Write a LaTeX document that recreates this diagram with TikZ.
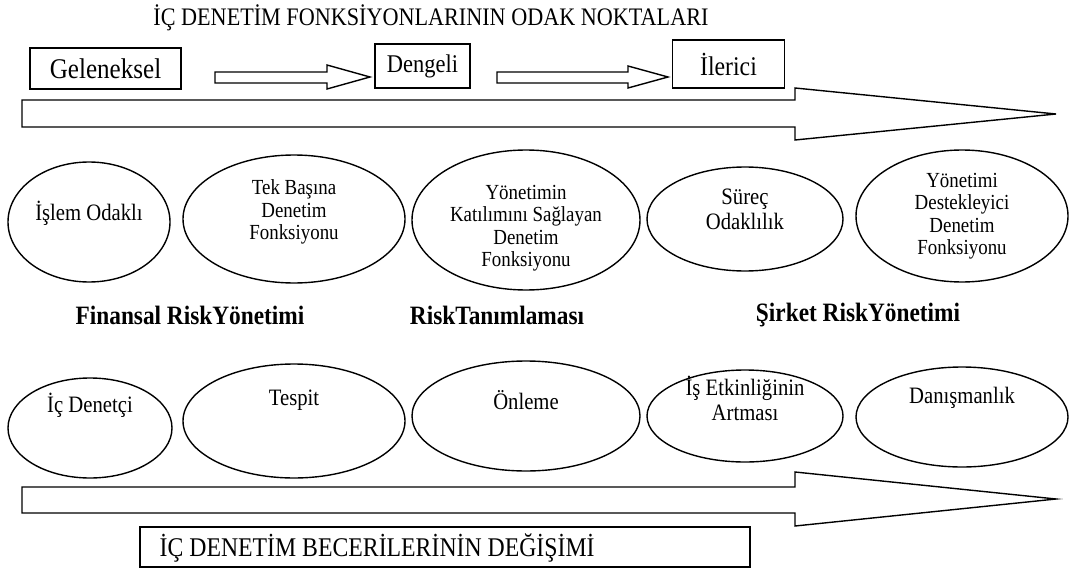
\documentclass[tikz,border=0pt]{standalone}
\usepackage{fontspec}
\setmainfont{Liberation Serif}[FakeStretch=0.88]
\usetikzlibrary{calc,shapes.geometric}
\begin{document}
\begin{tikzpicture}[x=1pt,y=-1pt,line width=1.4pt,
  box/.style={draw,rectangle,inner sep=0pt,font=\fontsize{27}{30}\selectfont},
  ell/.style={draw,ellipse,inner sep=0pt},
  etext/.style={align=center,font=\fontsize{21.5}{22.5}\selectfont,inner sep=0pt},
  btext/.style={align=center,font=\fontsize{23.5}{25}\selectfont,inner sep=0pt},
  bold/.style={font=\fontsize{26.5}{30}\selectfont\bfseries,inner sep=0pt},
  harrow/.style={draw,line join=miter,fill=white}]
\useasboundingbox (0,0) rectangle (1070,572);

\node[font=\fontsize{25.2}{28}\selectfont] (title) at (431,18) {İÇ DENETİM FONKSİYONLARININ ODAK NOKTALARI};

\node[box,minimum width=151pt,minimum height=41pt,font=\fontsize{28.5}{30}\selectfont] (gel) at (105.5,68.5) {Geleneksel};
\node[box,minimum width=95pt,minimum height=44pt,font=\fontsize{25.5}{30}\selectfont] (den) at (422.5,66) {Dengeli};
\node[box,minimum width=112pt,minimum height=48pt] (ile) at (728.5,64) {İlerici};

% small hollow arrows
\draw[harrow] (215,72) -- (327,72) -- (327,65) -- (370,77) -- (327,89) -- (327,83) -- (215,83) -- cycle;
\draw[harrow] (497,72) -- (628,72) -- (628,66) -- (668,77) -- (628,88) -- (628,83) -- (497,83) -- cycle;

% big arrows
\draw[harrow] (22,100) -- (795,100) -- (795,88) -- (1056,114) -- (795,140) -- (795,127) -- (22,127) -- cycle;
\draw[harrow] (22,487) -- (795,487) -- (795,472) -- (1056,499) -- (795,526) -- (795,513) -- (22,513) -- cycle;

% row 1 ellipses
\node[ell,minimum width=162pt,minimum height=120pt] (e1) at (89,222) {};
\node[ell,minimum width=222pt,minimum height=128pt] (e2) at (294,219) {};
\node[ell,minimum width=228pt,minimum height=140pt] (e3) at (526,220) {};
\node[ell,minimum width=196pt,minimum height=104pt] (e4) at (745,219) {};
\node[ell,minimum width=212pt,minimum height=132pt] (e5) at (962,216) {};

\node[btext] (t1) at (89,213) {İşlem Odaklı};
\node[etext] (t2) at (294,212) {Tek Başına\\Denetim\\Fonksiyonu};
\node[etext] (t3) at (526,228) {Yönetimin\\Katılımını Sağlayan\\Denetim\\Fonksiyonu};
\node[btext] (t4) at (745,209) {Süreç\\Odaklılık};
\node[etext] (t5) at (962,216) {Yönetimi\\Destekleyici\\Denetim\\Fonksiyonu};

% bold row
\node[bold] (b1) at (190,315) {Finansal RiskYönetimi};
\node[bold] (b2) at (497,315) {RiskTanımlaması};
\node[bold] (b3) at (858,315) {Şirket RiskYönetimi};

% row 2 ellipses
\node[ell,minimum width=164pt,minimum height=100pt] (f1) at (90,428) {};
\node[ell,minimum width=222pt,minimum height=114pt] (f2) at (294,421) {};
\node[ell,minimum width=228pt,minimum height=110pt] (f3) at (526,416) {};
\node[ell,minimum width=196pt,minimum height=92pt] (f4) at (745,416) {};
\node[ell,minimum width=212pt,minimum height=100pt] (f5) at (962,417) {};

\node[btext] (s1) at (90,405) {İç Denetçi};
\node[btext] (s2) at (294,400) {Tespit};
\node[btext] (s3) at (526,400) {Önleme};
\node[btext] (s4) at (745,398) {İş Etkinliğinin\\Artması};
\node[btext] (s5) at (962,398) {Danışmanlık};

% bottom box
\node[box,minimum width=610pt,minimum height=40pt] (bot) at (445,547) {};
\node[font=\fontsize{27}{30}\selectfont,anchor=west,inner sep=0pt] (bott) at (159,548) {İÇ DENETİM BECERİLERİNİN DEĞİŞİMİ};
\end{tikzpicture}
\end{document}
